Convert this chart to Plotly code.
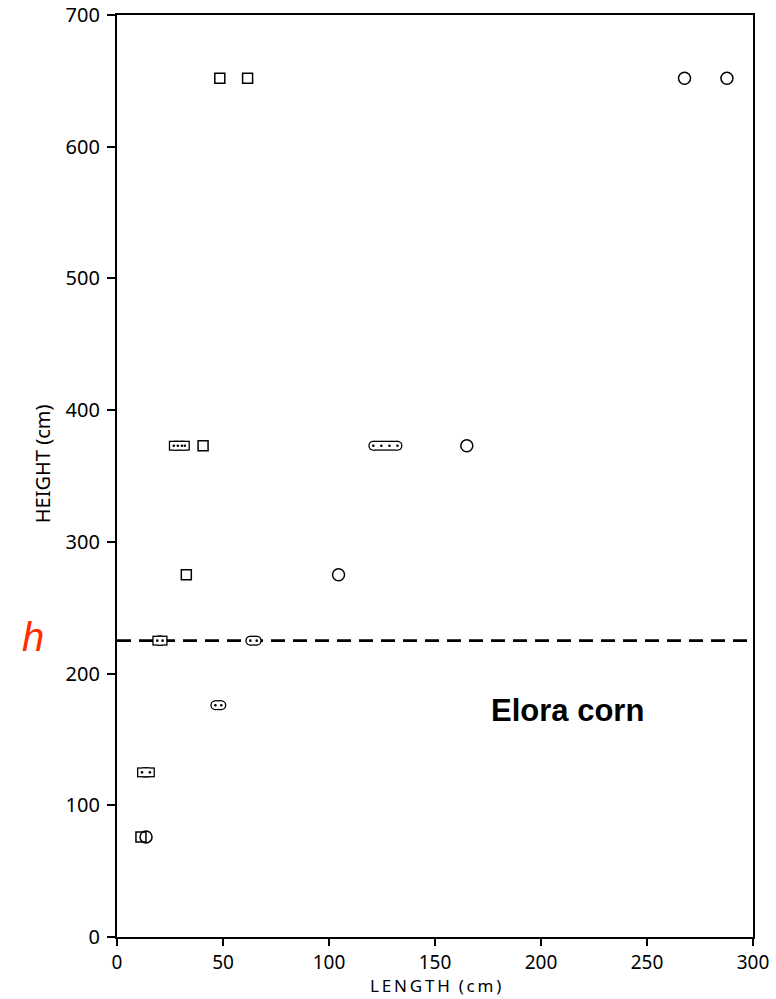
import plotly.graph_objects as go

# Wind-profile sampling positions above the Elora corn canopy
# Single sampling points (length in cm, height in cm)
square_x = [48.5, 61.6, 40.6, 32.7, 11.3]
square_y = [652, 652, 373, 275, 76]
circle_x = [267.7, 287.7, 165.0, 104.5, 13.7]
circle_y = [652, 652, 373, 275, 76]

# Groups of closely spaced points drawn inside a common enclosure
square_group_y = [373, 225, 125]
square_group_x = [[26.8, 28.7, 30.6, 32.0], [19.0, 21.5], [11.8, 15.5]]
circle_group_y = [373, 225, 176]
circle_group_x = [[120.9, 124.7, 128.5, 132.3], [62.9, 65.9], [46.4, 49.2]]

# Canopy height h
canopy_h = 225

x_ticks = [0, 50, 100, 150, 200, 250, 300]
y_ticks = [0, 100, 200, 300, 400, 500, 600, 700]

TICK_FONT = "Noto Sans"

fig = go.Figure()


def add_group(xs, y, symbol):
    lo, hi = min(xs), max(xs)
    # dark outline body
    fig.add_trace(go.Scatter(
        x=[lo, hi], y=[y, y], mode="lines+markers",
        line=dict(color="black", width=10),
        marker=dict(symbol=symbol, size=10, color="black", line=dict(width=0)),
        hoverinfo="skip", showlegend=False, cliponaxis=False))
    # hollow interior
    fig.add_trace(go.Scatter(
        x=[lo, hi], y=[y, y], mode="lines+markers",
        line=dict(color="white", width=7.4),
        marker=dict(symbol=symbol, size=7.4, color="white", line=dict(width=0)),
        hoverinfo="skip", showlegend=False, cliponaxis=False))
    # individual points
    fig.add_trace(go.Scatter(
        x=xs, y=[y] * len(xs), mode="markers",
        marker=dict(size=2.6, color="black", line=dict(width=0)),
        showlegend=False, cliponaxis=False))


for xs, y in zip(square_group_x, square_group_y):
    add_group(xs, y, "square")
for xs, y in zip(circle_group_x, circle_group_y):
    add_group(xs, y, "circle")

fig.add_trace(go.Scatter(
    x=square_x, y=square_y, mode="markers",
    marker=dict(symbol="square-open", size=10, color="black", line=dict(width=1.5)),
    showlegend=False, cliponaxis=False))
fig.add_trace(go.Scatter(
    x=circle_x, y=circle_y, mode="markers",
    marker=dict(symbol="circle-open", size=12, color="black", line=dict(width=1.5)),
    showlegend=False, cliponaxis=False))

# canopy-height reference line
fig.add_shape(type="line", xref="x", yref="y", x0=0, x1=300, y0=canopy_h, y1=canopy_h,
              line=dict(color="black", width=2.6, dash="14px,8px"), layer="below")

fig.add_annotation(text="<i>h</i>", xref="paper", yref="y", x=-0.1316, y=canopy_h,
                   yshift=4, showarrow=False, xanchor="center", yanchor="middle",
                   font=dict(family="Liberation Sans", size=40, color="#ff2e00"))

fig.add_annotation(text="<b>Elora corn</b>", xref="x", yref="y", x=212.4, y=172,
                   showarrow=False, xanchor="center", yanchor="middle",
                   font=dict(family="Liberation Sans", size=31, color="black"))

thin = "\u2009"
fig.add_annotation(text=thin.join("LENGTH") + "  " + thin.join("(cm)"),
                   xref="paper", yref="paper", x=0.5, y=-0.0672,
                   showarrow=False, xanchor="center", yanchor="bottom",
                   font=dict(family=TICK_FONT, size=17, color="black"))
fig.add_annotation(text="HEIGHT (cm)", xref="paper", yref="paper", x=-0.1175, y=0.513,
                   showarrow=False, xanchor="center", yanchor="middle", textangle=-90,
                   font=dict(family=TICK_FONT, size=20, color="black"))

axis_common = dict(
    showline=True, linecolor="black", linewidth=2.2, mirror=True,
    ticks="outside", tickwidth=1.6, tickcolor="black",
    showgrid=False, zeroline=False, automargin=False,
)

fig.update_layout(
    width=776, height=999,
    margin=dict(l=117, r=23, t=15, b=62),
    paper_bgcolor="white", plot_bgcolor="white",
    xaxis=dict(range=[0, 300], tickvals=x_ticks, ticktext=[str(v) for v in x_ticks],
               ticklen=7, ticklabelstandoff=0,
               tickfont=dict(family=TICK_FONT, size=19, color="black"), **axis_common),
    yaxis=dict(range=[0, 700], tickvals=y_ticks, ticktext=[str(v) for v in y_ticks],
               ticklen=8, ticklabelstandoff=3,
               tickfont=dict(family=TICK_FONT, size=20, color="black"), **axis_common),
    showlegend=False,
)

fig.write_html("out.html")
